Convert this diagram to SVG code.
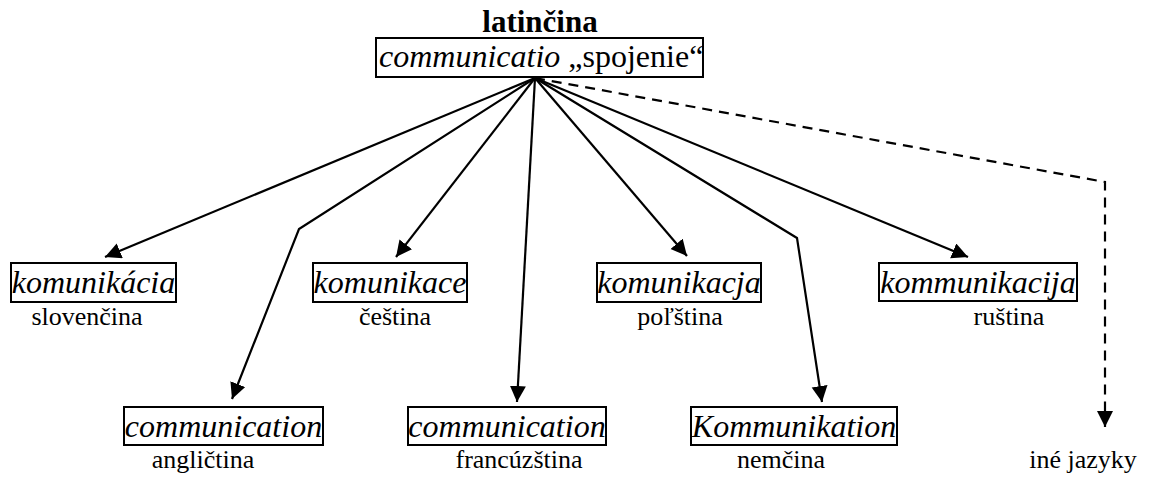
<svg xmlns="http://www.w3.org/2000/svg" width="1153" height="477" viewBox="0 0 1153 477" font-family="Liberation Serif, Tinos, Times New Roman, DejaVu Serif, serif">
<style>
text{font-family:'Liberation Serif',Tinos,'Times New Roman','DejaVu Serif',serif;fill:#000}
.t{font-size:32px;font-style:italic;text-anchor:middle}
.l{font-size:26px;text-anchor:middle}
.b{fill:#fff;stroke:#000;stroke-width:2}
.c{fill:none;stroke:#000;stroke-width:2.2}
.d{stroke-dasharray:10,7}
</style>
<defs>
<marker id="ah" markerUnits="userSpaceOnUse" markerWidth="17" markerHeight="17" refX="16" refY="8" orient="auto" viewBox="0 0 17 17">
<path d="M0,0 L16,8 L0,16 z" fill="#000"/>
</marker>
</defs>
<g id="connectors">
<line class="c" x1="535" y1="78" x2="105" y2="257" marker-end="url(#ah)"/>
<polyline class="c" points="535,78 299,229 232,399" marker-end="url(#ah)"/>
<line class="c" x1="535" y1="78" x2="396" y2="257" marker-end="url(#ah)"/>
<line class="c" x1="535" y1="78" x2="517" y2="402" marker-end="url(#ah)"/>
<line class="c" x1="535" y1="78" x2="687" y2="256" marker-end="url(#ah)"/>
<polyline class="c" points="535,78 797,238 822,402" marker-end="url(#ah)"/>
<line class="c" x1="535" y1="78" x2="968" y2="257" marker-end="url(#ah)"/>
<polyline class="c d" points="535,78 1105,182 1105,427" marker-end="url(#ah)"/>
</g>
<g id="latin">
<text x="540" y="32" style="font-size:31px;font-weight:bold;text-anchor:middle">latinčina</text>
<rect class="b" x="376" y="38" width="327" height="39"/>
<text x="379" y="67" style="font-size:32px"><tspan font-style="italic">communicatio</tspan> „spojenie“</text>
</g>
<g id="slovencina">
<rect class="b" x="11" y="263" width="165" height="39"/>
<text class="t" x="93.5" y="293">komunikácia</text>
<text class="l" x="87" y="325">slovenčina</text>
</g>
<g id="anglictina">
<rect class="b" x="124" y="407" width="199" height="38"/>
<text class="t" x="223.5" y="437">communication</text>
<text class="l" x="203" y="468">angličtina</text>
</g>
<g id="cestina">
<rect class="b" x="313" y="263" width="154" height="39"/>
<text class="t" x="390" y="293">komunikace</text>
<text class="l" x="395" y="325">čeština</text>
</g>
<g id="francuzstina">
<rect class="b" x="408" y="407" width="198" height="38"/>
<text class="t" x="507" y="437">communication</text>
<text class="l" x="519" y="468">francúzština</text>
</g>
<g id="polstina">
<rect class="b" x="597" y="263" width="164" height="39"/>
<text class="t" x="679" y="293">komunikacja</text>
<text class="l" x="680" y="325">poľština</text>
</g>
<g id="nemcina">
<rect class="b" x="691" y="407" width="206" height="38"/>
<text class="t" x="794" y="437">Kommunikation</text>
<text class="l" x="781" y="468">nemčina</text>
</g>
<g id="rustina">
<rect class="b" x="879" y="263" width="198" height="38"/>
<text class="t" x="978" y="293">kommunikacija</text>
<text class="l" x="1009" y="325">ruština</text>
</g>
<g id="ine">
<text class="l" x="1083" y="468">iné jazyky</text>
</g>
</svg>
